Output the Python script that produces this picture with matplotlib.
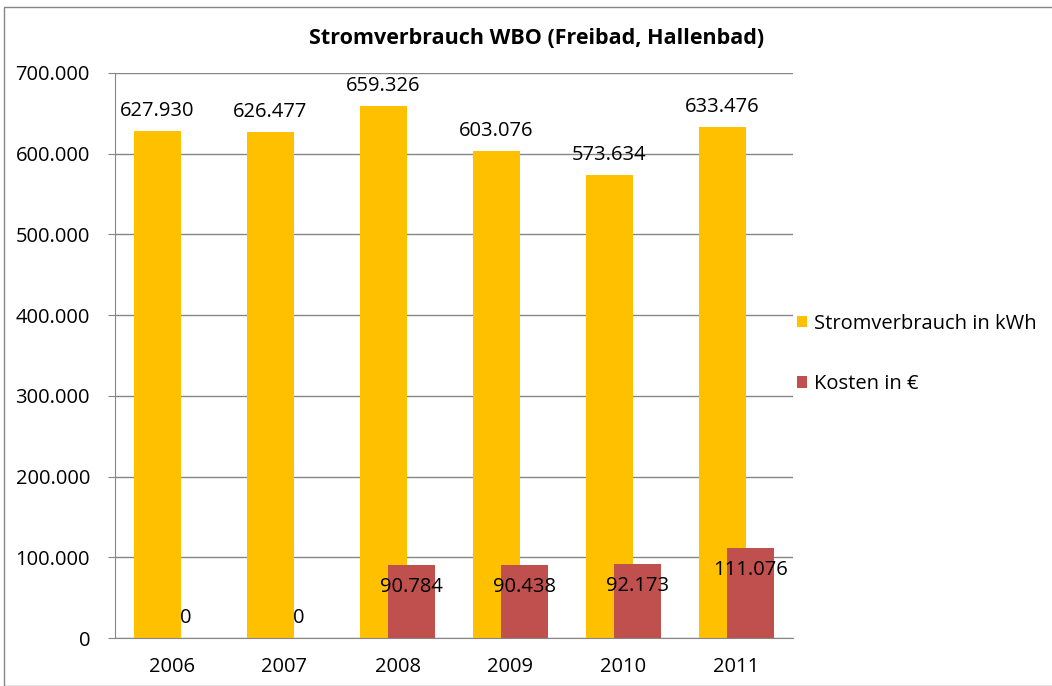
import numpy as np
import matplotlib.pyplot as plt
from matplotlib.patches import Rectangle
from matplotlib.ticker import FuncFormatter

jahre = ["2006", "2007", "2008", "2009", "2010", "2011"]
strom_kwh = [627930, 626477, 659326, 603076, 573634, 633476]
kosten_eur = [0, 0, 90784, 90438, 92173, 111076]

gelb = "#FFC000"
rot = "#C0504D"


def de_format(v):
    return "{:,.0f}".format(v).replace(",", ".")


plt.rcParams['font.family'] = ['Open Sans', 'DejaVu Sans']

fig = plt.figure(figsize=(10.52, 6.86), dpi=100)
ax = fig.add_axes([115 / 1052, 1 - 638 / 686, (793 - 115) / 1052, (638 - 73) / 686])

x = np.arange(len(jahre))
breite = 0.416
versatz = 0.126
b1 = ax.bar(x - versatz, strom_kwh, breite, color=gelb, label="Stromverbrauch in kWh", zorder=2)
b2 = ax.bar(x + versatz, kosten_eur, breite, color=rot, label="Kosten in €", zorder=3)

for xi, v in zip(x, strom_kwh):
    ax.annotate(de_format(v), (xi - versatz, v), xytext=(0, 20), textcoords="offset pixels",
                ha="center", va="center", fontsize=14.5, zorder=5)
for xi, v in zip(x, kosten_eur):
    dy = 20 if v == 0 else -22
    ax.annotate(de_format(v), (xi + versatz, v), xytext=(0, dy), textcoords="offset pixels",
                ha="center", va="center", fontsize=14.5, zorder=5)

ax.set_xlim(-0.5, len(jahre) - 0.5)
ax.set_ylim(0, 700000)
ax.set_yticks(np.arange(0, 700001, 100000))
ax.yaxis.set_major_formatter(FuncFormatter(lambda v, p: de_format(v)))
ax.set_xticks(x)
ax.set_xticklabels(jahre)
ax.tick_params(axis="x", length=0, pad=14, labelsize=14.5)
ax.tick_params(axis="y", length=5, color="#868686", labelsize=14.5, pad=13)
ax.grid(axis="y", color="#868686", linewidth=1, zorder=0)
ax.set_axisbelow(True)
for s in ["top", "right"]:
    ax.spines[s].set_visible(False)
for s in ["left", "bottom"]:
    ax.spines[s].set_color("#868686")

fig.text(537 / 1052, 1 - 38 / 686, "Stromverbrauch WBO (Freibad, Hallenbad)",
         ha="center", va="center", fontsize=15.5, fontweight="bold")

leg = fig.legend(handles=[b1, b2], loc="center left", bbox_to_anchor=(797 / 1052, 1 - 354 / 686),
                 frameon=False, fontsize=14.5, handlelength=0.5, handleheight=0.5,
                 handletextpad=0.35, labelspacing=2.0, borderpad=0, borderaxespad=0)

fig.patches.append(Rectangle((4 / 1052, 0), 1.2, 1 - 7 / 686, transform=fig.transFigure,
                             fill=False, edgecolor="#868686", linewidth=1))

fig.savefig("out.png", dpi=100)
